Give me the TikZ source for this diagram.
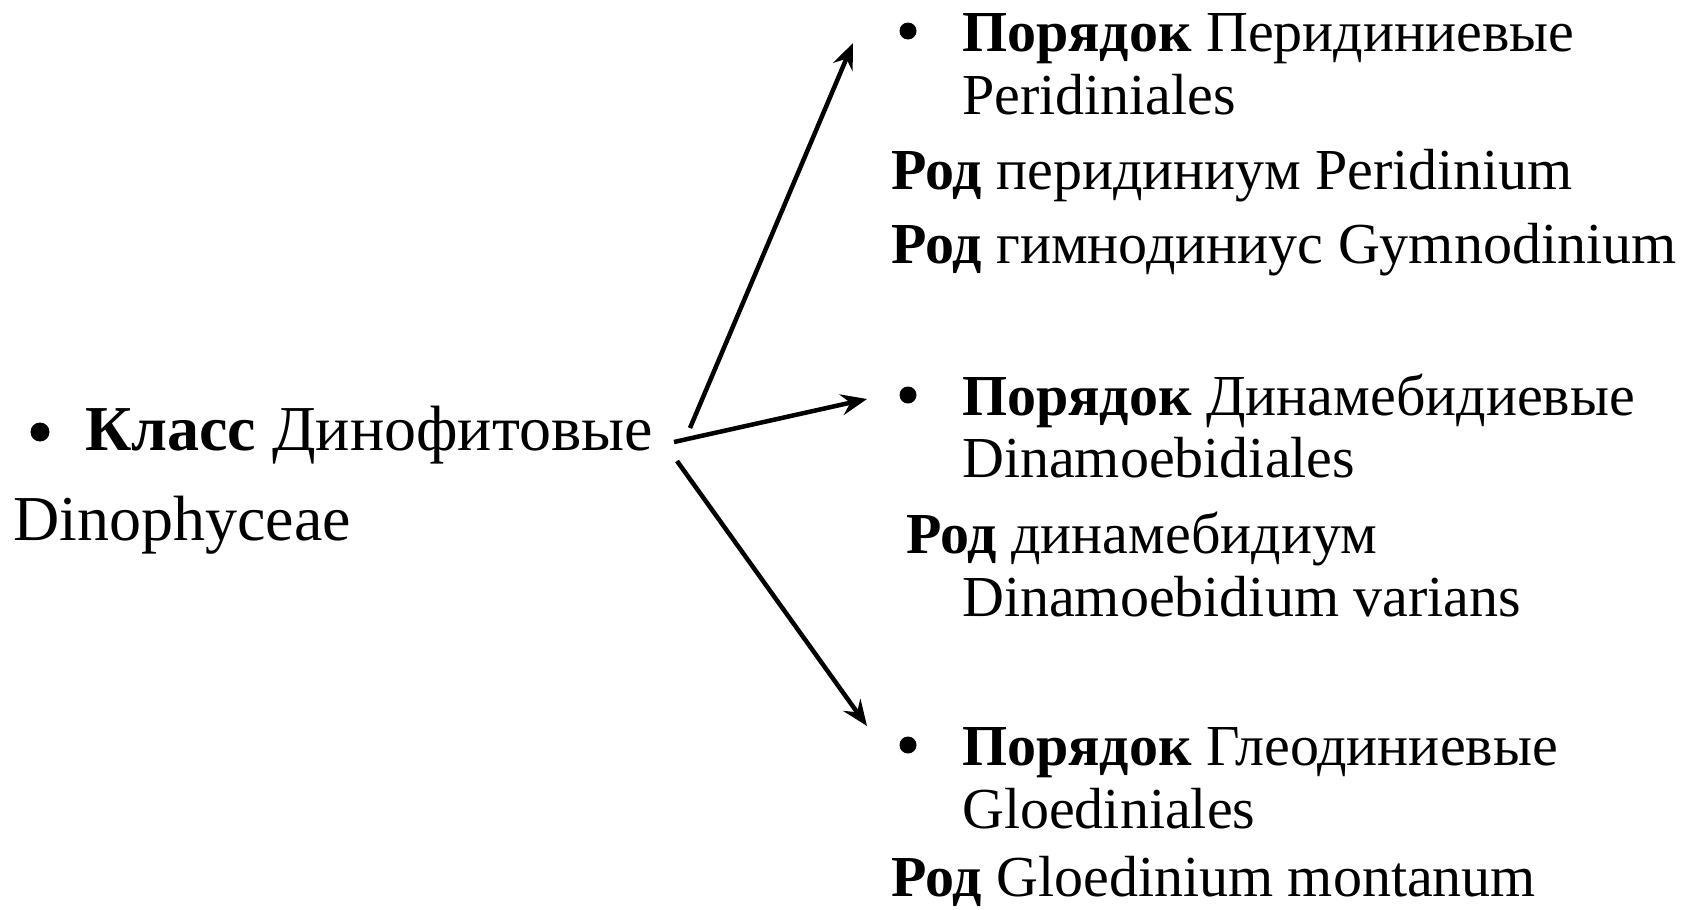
\documentclass[tikz,border=0pt]{standalone}
\usepackage{fontspec}
\setmainfont{Liberation Serif}
\usetikzlibrary{arrows.meta}
\tikzset{
  txt/.style={anchor=base west, inner sep=0pt, font=\fontsize{58}{66}\selectfont},
  bigtxt/.style={txt, font=\fontsize{64}{72}\selectfont},
  dot/.style={circle, fill, inner sep=0pt, minimum size=17pt},
  arr/.style={line width=4.5pt, -{Stealth[length=26pt,width=21pt,inset=9pt]}}
}

\begin{document}
\begin{tikzpicture}[x=1pt,y=-1pt]
	\useasboundingbox (0,0) rectangle (1700,910);
	% class
	\node[dot, minimum size=19pt] (b0) at (40,432) {};
	\node[bigtxt] (klass) at (85,450) {\textbf{Класс} Динофитовые};
	\node[bigtxt] (klasslat) at (13,540) {Dinophyceae};
	
	% orders
	\node[dot] (b1) at (908,31) {};
	\node[txt] (ord1) at (962,51) {\textbf{Порядок} Перидиниевые};
	\node[txt] (ord1lat) at (962,114) {Peridiniales};
	\node[txt] (gen1) at (891,189) {\textbf{Род} перидиниум Peridinium};
	\node[txt] (gen2) at (891,263) {\textbf{Род} гимнодиниус Gymnodinium};
	
	\node[dot] (b2) at (908,395) {};
	\node[txt] (ord2) at (962,415) {\textbf{Порядок} Динамебидиевые};
	\node[txt] (ord2lat) at (962,477) {Dinamoebidiales};
	\node[txt] (gen3) at (906,553) {\textbf{Род} динамебидиум};
	\node[txt] (gen3lat) at (962,616) {Dinamoebidium varians};
	
	\node[dot] (b3) at (908,745) {};
	\node[txt] (ord3) at (962,765) {\textbf{Порядок} Глеодиниевые};
	\node[txt] (ord3lat) at (962,828) {Gloediniales};
	\node[txt] (gen4) at (891,896) {\textbf{Род} Gloedinium montanum};
	
	% arrows
	\coordinate (s1) at (690,428); \coordinate (e1) at (853,43);
	\coordinate (s2) at (674,442); \coordinate (e2) at (867,399);
	\coordinate (s3) at (677,461); \coordinate (e3) at (867,726);
	\draw[arr] (s1) -- (e1);
	\draw[arr] (s2) -- (e2);
	\draw[arr] (s3) -- (e3);
\end{tikzpicture}
\end{document}
